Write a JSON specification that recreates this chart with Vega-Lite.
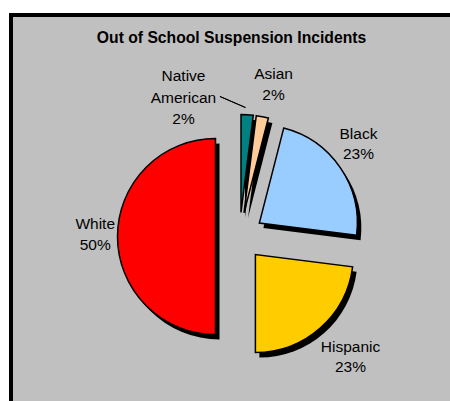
{
  "$schema": "https://vega.github.io/schema/vega-lite/v6.json",
  "autosize": {"type": "none"},
  "width": 445,
  "height": 392,
  "padding": {"left": 11, "top": 15, "right": -6, "bottom": -6},
  "background": "#ffffff",
  "view": {"fill": "#C0C0C0", "stroke": "#000000", "strokeWidth": 4, "strokeDash": [445, 837, 392]},
  "config": {"font": "Liberation Sans"},
  "title": {
    "text": "Out of School Suspension Incidents",
    "font": "Liberation Sans",
    "fontSize": 15.7,
    "fontWeight": "bold",
    "color": "#000000",
    "anchor": "middle",
    "dx": -2,
    "offset": -32
  },
  "data": {
    "values": [
      {"group": "Native American", "pct": 2, "label": "Native\nAmerican\n2%"},
      {"group": "Asian", "pct": 2, "label": "Asian\n2%"},
      {"group": "Black", "pct": 23, "label": "Black\n23%"},
      {"group": "Hispanic", "pct": 23, "label": "Hispanic\n23%"},
      {"group": "White", "pct": 50, "label": "White\n50%"}
    ]
  },
  "transform": [{"window": [{"op": "row_number", "as": "idx"}]}],
  "encoding": {
    "theta": {"field": "pct", "type": "quantitative", "stack": true, "scale": {"domain": [0, 100]}},
    "order": {"field": "idx", "type": "quantitative"}
  },
  "layer": [
    {"mark": {"type": "arc", "radius": 98, "xOffset": 11.5, "yOffset": 6.5, "fill": "#000000"},
     "encoding": {"opacity": {"condition": {"test": "datum.group === 'Native American'", "value": 1}, "value": 0}}},
    {"mark": {"type": "arc", "radius": 98, "xOffset": 14.5, "yOffset": 6.9, "fill": "#000000"},
     "encoding": {"opacity": {"condition": {"test": "datum.group === 'Asian'", "value": 1}, "value": 0}}},
    {"mark": {"type": "arc", "radius": 98, "xOffset": 29.85, "yOffset": 17, "fill": "#000000"},
     "encoding": {"opacity": {"condition": {"test": "datum.group === 'Black'", "value": 1}, "value": 0}}},
    {"mark": {"type": "arc", "radius": 98, "xOffset": 25.9, "yOffset": 48.5, "fill": "#000000"},
     "encoding": {"opacity": {"condition": {"test": "datum.group === 'Hispanic'", "value": 1}, "value": 0}}},
    {"mark": {"type": "arc", "radius": 98, "xOffset": -14, "yOffset": 30.5, "fill": "#000000"},
     "encoding": {"opacity": {"condition": {"test": "datum.group === 'White'", "value": 1}, "value": 0}}},

    {"mark": {"type": "arc", "radius": 98, "xOffset": 7.5, "yOffset": 1.5, "stroke": "#000000", "strokeWidth": 1.5},
     "encoding": {
       "color": {"field": "group", "type": "nominal", "legend": null,
                 "scale": {"domain": ["Native American", "Asian", "Black", "Hispanic", "White"],
                           "range": ["#008080", "#FFCC99", "#99CCFF", "#FFCC00", "#FF0000"]}},
       "opacity": {"condition": {"test": "datum.group === 'Native American'", "value": 1}, "value": 0}}},
    {"mark": {"type": "arc", "radius": 98, "xOffset": 10.5, "yOffset": 1.9, "stroke": "#000000", "strokeWidth": 1.5},
     "encoding": {
       "color": {"field": "group", "type": "nominal", "legend": null},
       "opacity": {"condition": {"test": "datum.group === 'Asian'", "value": 1}, "value": 0}}},
    {"mark": {"type": "arc", "radius": 98, "xOffset": 25.85, "yOffset": 12, "stroke": "#000000", "strokeWidth": 1.5},
     "encoding": {
       "color": {"field": "group", "type": "nominal", "legend": null},
       "opacity": {"condition": {"test": "datum.group === 'Black'", "value": 1}, "value": 0}}},
    {"mark": {"type": "arc", "radius": 98, "xOffset": 21.9, "yOffset": 43.5, "stroke": "#000000", "strokeWidth": 1.5},
     "encoding": {
       "color": {"field": "group", "type": "nominal", "legend": null},
       "opacity": {"condition": {"test": "datum.group === 'Hispanic'", "value": 1}, "value": 0}}},
    {"mark": {"type": "arc", "radius": 98, "xOffset": -18, "yOffset": 25.5, "stroke": "#000000", "strokeWidth": 1.5},
     "encoding": {
       "color": {"field": "group", "type": "nominal", "legend": null},
       "opacity": {"condition": {"test": "datum.group === 'White'", "value": 1}, "value": 0}}},

    {"mark": {"type": "arc", "radius": 35.8, "radius2": 8, "padAngle": 0.3, "thetaOffset": 5.058, "theta2Offset": 5.058,
              "xOffset": 19.3, "yOffset": -100.3, "fill": null, "stroke": "#000000", "strokeWidth": 1},
     "encoding": {"opacity": {"condition": {"test": "datum.group === 'Native American'", "value": 1}, "value": 0}}},

    {"mark": {"type": "text", "radius": 135, "dx": -58.5, "dy": 0.2, "fontSize": 15.5, "lineHeight": 21.5, "lineBreak": "\n", "align": "center", "baseline": "middle", "color": "#000000"},
     "encoding": {"text": {"condition": {"test": "datum.group === 'Native American'", "field": "label"}, "value": ""}}},
    {"mark": {"type": "text", "radius": 156, "dx": 10.8, "dy": 16.7, "fontSize": 15.5, "lineHeight": 21, "lineBreak": "\n", "align": "center", "baseline": "middle", "color": "#000000"},
     "encoding": {"text": {"condition": {"test": "datum.group === 'Asian'", "field": "label"}, "value": ""}}},
    {"mark": {"type": "text", "radius": 151, "dx": 0.1, "dy": 7.6, "fontSize": 15.5, "lineHeight": 20.5, "lineBreak": "\n", "align": "center", "baseline": "middle", "color": "#000000"},
     "encoding": {"text": {"condition": {"test": "datum.group === 'Black'", "field": "label"}, "value": ""}}},
    {"mark": {"type": "text", "radius": 165, "dx": 7.9, "dy": 11.9, "fontSize": 15.5, "lineHeight": 20.5, "lineBreak": "\n", "align": "center", "baseline": "middle", "color": "#000000"},
     "encoding": {"text": {"condition": {"test": "datum.group === 'Hispanic'", "field": "label"}, "value": ""}}},
    {"mark": {"type": "text", "radius": 143, "dx": 4.7, "dy": 12.8, "fontSize": 15.5, "lineHeight": 21.5, "lineBreak": "\n", "align": "center", "baseline": "middle", "color": "#000000"},
     "encoding": {"text": {"condition": {"test": "datum.group === 'White'", "field": "label"}, "value": ""}}}
  ]
}
